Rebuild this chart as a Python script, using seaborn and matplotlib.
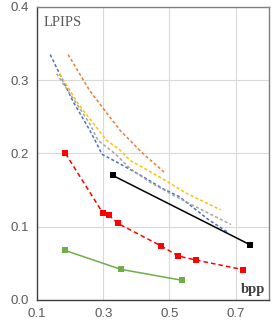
import pandas as pd
import seaborn as sns
import matplotlib.pyplot as plt

# curves (bpp vs LPIPS)
blue_x = [0.140, 0.209, 0.259, 0.280, 0.296, 0.35, 0.41, 0.48, 0.53, 0.62, 0.678]
blue_y = [0.335, 0.271, 0.232, 0.214, 0.199, 0.186, 0.171, 0.152, 0.141, 0.109, 0.092]

gray_x = [0.159, 0.209, 0.259, 0.284, 0.335, 0.38, 0.44, 0.52, 0.62, 0.686]
gray_y = [0.309, 0.275, 0.241, 0.218, 0.200, 0.180, 0.161, 0.141, 0.118, 0.103]

yellow_x = [0.169, 0.224, 0.274, 0.31, 0.35, 0.38, 0.47, 0.55, 0.655]
yellow_y = [0.308, 0.268, 0.239, 0.218, 0.205, 0.191, 0.168, 0.146, 0.123]

orange_x = [0.194, 0.259, 0.35, 0.42, 0.488]
orange_y = [0.335, 0.286, 0.232, 0.200, 0.173]

red_x = [0.186, 0.2985, 0.317, 0.344, 0.474, 0.527, 0.579, 0.7226]
red_y = [0.200, 0.119, 0.116, 0.1046, 0.074, 0.060, 0.0546, 0.0414]

green_x = [0.184, 0.353, 0.538]
green_y = [0.0678, 0.0419, 0.0269]

black_x = [0.329, 0.743]
black_y = [0.170, 0.0755]

sns.set_style("white")
plt.rcParams['font.family'] = ['Liberation Sans', 'DejaVu Sans']

fig = plt.figure(figsize=(2.73, 3.27), dpi=100)
ax = fig.add_axes([0.1355, 0.0826, 0.849, 0.896])

dots = (0, (2.0, 1.5))
series = [
    (blue_x, blue_y, "#4472C4", dots, None),
    (gray_x, gray_y, "#A5A5A5", dots, None),
    (yellow_x, yellow_y, "#FFC000", dots, None),
    (orange_x, orange_y, "#ED7D31", dots, None),
    (red_x, red_y, "#FF0000", (0, (3, 2)), "s"),
    (green_x, green_y, "#70AD47", "-", "s"),
    (black_x, black_y, "black", "-", "s"),
]
for xs, ys, col, ls, mk in series:
    df = pd.DataFrame({"bpp": xs, "lpips": ys})
    sns.lineplot(data=df, x="bpp", y="lpips", ax=ax, color=col, sort=False,
                 linestyle=ls, linewidth=1.1, marker=mk, markersize=4.5,
                 markeredgewidth=0, markerfacecolor=col)

ax.set_xlim(0.1, 0.8)
ax.set_ylim(0.0, 0.4)
ax.set_xticks([0.1, 0.3, 0.5, 0.7])
ax.set_yticks([0.0, 0.1, 0.2, 0.3, 0.4])
ax.set_xticklabels(["0.1", "0.3", "0.5", "0.7"])
ax.set_yticklabels(["0.0", "0.1", "0.2", "0.3", "0.4"])
ax.grid(True, color="#d9d9d9", linewidth=0.8)
ax.tick_params(axis="both", labelsize=9.5, colors="#595959", length=0, pad=6)
ax.set_xlabel("")
ax.set_ylabel("")
for s in ax.spines.values():
    s.set_color("#808080")
    s.set_linewidth(1.0)
ax.spines["left"].set_color("#404040")
ax.spines["bottom"].set_color("#404040")

ax.text(0.03, 0.97, "LPIPS", transform=ax.transAxes, ha="left", va="top",
        fontsize=10.5, color="#595959", family=["Liberation Serif"])
ax.text(0.985, 0.015, "bpp", transform=ax.transAxes, ha="right", va="bottom",
        fontsize=10.5, color="#404040", fontweight="bold",
        family=["Liberation Serif"])

fig.savefig("out.png", dpi=100)
